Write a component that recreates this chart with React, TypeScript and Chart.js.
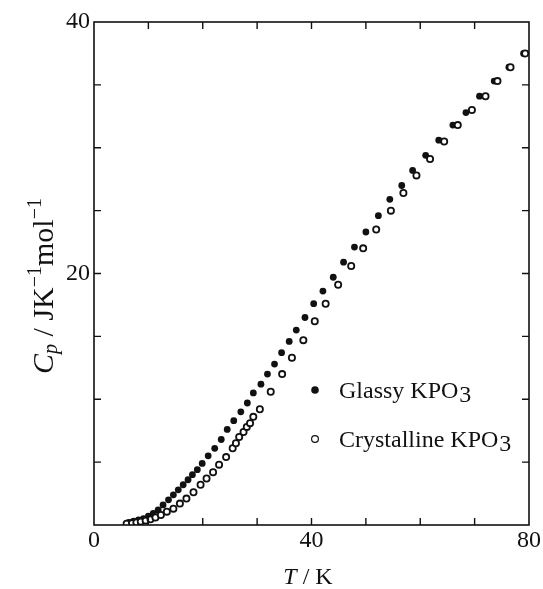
import React, { useEffect, useRef } from "react";
import { Chart, registerables } from "chart.js";

Chart.register(...registerables);

// Glassy KPO3 (filled circles): temperature T / K and heat capacity Cp / J K^-1 mol^-1
const glassyT = [6.4, 7.3, 8.2, 9.1, 10.0, 10.9, 11.8, 12.7, 13.7, 14.6, 15.5, 16.4, 17.3, 18.1, 19.0, 19.9, 21.0, 22.2, 23.4, 24.5, 25.7, 27.0, 28.2, 29.3, 30.7, 31.9, 33.2, 34.5, 35.9, 37.2, 38.8, 40.4, 42.1, 44.0, 45.9, 47.9, 50.0, 52.3, 54.4, 56.6, 58.6, 61.0, 63.4, 66.0, 68.4, 70.9, 73.6, 76.3, 79.0];
const glassyCp = [0.2, 0.3, 0.4, 0.5, 0.7, 0.93, 1.2, 1.6, 2.0, 2.4, 2.8, 3.2, 3.6, 4.0, 4.4, 4.9, 5.5, 6.1, 6.8, 7.6, 8.3, 9.0, 9.7, 10.5, 11.2, 12.0, 12.8, 13.7, 14.6, 15.5, 16.5, 17.6, 18.6, 19.7, 20.9, 22.1, 23.3, 24.6, 25.9, 27.0, 28.2, 29.4, 30.6, 31.8, 32.8, 34.1, 35.3, 36.4, 37.5];

// Crystalline KPO3 (open circles)
const crystT = [6.0, 7.0, 7.8, 8.6, 9.5, 10.4, 11.3, 12.3, 13.4, 14.6, 15.8, 17.0, 18.3, 19.6, 20.7, 21.9, 23.0, 24.3, 25.5, 26.1, 26.7, 27.5, 28.1, 28.7, 29.3, 30.5, 32.5, 34.6, 36.4, 38.5, 40.6, 42.6, 44.9, 47.3, 49.5, 51.9, 54.6, 56.9, 59.3, 61.8, 64.4, 66.9, 69.5, 72.0, 74.2, 76.6, 79.3];
const crystCp = [0.1, 0.15, 0.2, 0.27, 0.35, 0.45, 0.6, 0.8, 1.06, 1.3, 1.7, 2.1, 2.6, 3.2, 3.7, 4.2, 4.8, 5.4, 6.1, 6.5, 7.0, 7.4, 7.8, 8.1, 8.6, 9.2, 10.6, 12.0, 13.3, 14.7, 16.2, 17.6, 19.1, 20.6, 22.0, 23.5, 25.0, 26.4, 27.8, 29.1, 30.5, 31.8, 33.0, 34.1, 35.3, 36.4, 37.5];

const xRange = [0, 80];
const yRange = [0, 40];
const xStep = 10;
const yStep = 5;
const xLabelled = [0, 40, 80];
const yLabelled = [20, 40];
const legendNames = ["Glassy KPO", "Crystalline KPO"];

const SERIF = "\"Liberation Serif\"";
const INK = "#111";

const decorPlugin = {
  id: "decor",
  afterDraw(chart: any) {
    const ctx = chart.ctx;
    const a = chart.chartArea;
    const xs = chart.scales.x;
    const ys = chart.scales.y;
    ctx.save();
    ctx.strokeStyle = INK;
    ctx.lineWidth = 1.6;
    ctx.strokeRect(a.left, a.top, a.right - a.left, a.bottom - a.top);
    ctx.lineWidth = 1.4;
    const tl = 7;
    ctx.beginPath();
    xs.ticks.forEach((t: any) => {
      if (t.value <= xRange[0] || t.value >= xRange[1]) return;
      const px = xs.getPixelForValue(t.value);
      ctx.moveTo(px, a.bottom);
      ctx.lineTo(px, a.bottom - tl);
      ctx.moveTo(px, a.top);
      ctx.lineTo(px, a.top + tl);
    });
    ys.ticks.forEach((t: any) => {
      if (t.value <= yRange[0] || t.value >= yRange[1]) return;
      const py = ys.getPixelForValue(t.value);
      ctx.moveTo(a.left, py);
      ctx.lineTo(a.left + tl, py);
      ctx.moveTo(a.right, py);
      ctx.lineTo(a.right - tl, py);
    });
    ctx.stroke();

    // legend
    ctx.fillStyle = INK;
    ctx.textAlign = "left";
    ctx.textBaseline = "alphabetic";
    const legY = [390, 439];
    for (let i = 0; i < 2; i++) {
      ctx.beginPath();
      ctx.arc(315, legY[i], i === 0 ? 3.8 : 3.4, 0, Math.PI * 2);
      if (i === 0) {
        ctx.fillStyle = INK;
        ctx.fill();
      } else {
        ctx.fillStyle = "#fff";
        ctx.fill();
        ctx.lineWidth = 1.2;
        ctx.stroke();
      }
      ctx.fillStyle = INK;
      ctx.font = `24px ${SERIF}`;
      const base = legY[i] + 8;
      ctx.fillText(legendNames[i], 339, base);
      const w = ctx.measureText(legendNames[i]).width;
      ctx.fillText("3", 339 + w + 1, base + 4);
    }

    // x title
    ctx.font = `italic 24px ${SERIF}`;
    const wT = ctx.measureText("T").width;
    ctx.font = `24px ${SERIF}`;
    const wRest = ctx.measureText(" / K").width;
    const x0 = 308 - (wT + wRest) / 2;
    ctx.font = `italic 24px ${SERIF}`;
    ctx.fillText("T", x0, 584);
    ctx.font = `24px ${SERIF}`;
    ctx.fillText(" / K", x0 + wT, 584);

    // y title (rotated)
    const parts = [
      { t: "C", f: `italic 30px ${SERIF}`, dy: 0 },
      { t: "p", f: `italic 20px ${SERIF}`, dy: 4 },
      { t: " / JK", f: `30px ${SERIF}`, dy: 0 },
      { t: "\u22121", f: `20px ${SERIF}`, dy: -12 },
      { t: "mol", f: `30px ${SERIF}`, dy: 0 },
      { t: "\u22121", f: `20px ${SERIF}`, dy: -12 },
    ];
    let W = 0;
    const widths = parts.map((p) => {
      ctx.font = p.f;
      const w = ctx.measureText(p.t).width;
      W += w;
      return w;
    });
    ctx.translate(53, 286 + W / 2);
    ctx.rotate(-Math.PI / 2);
    let cx = 0;
    parts.forEach((p, i) => {
      ctx.font = p.f;
      ctx.fillText(p.t, cx, p.dy);
      cx += widths[i];
    });
    ctx.restore();
  },
};

export default function App() {
  const ref = useRef<HTMLCanvasElement | null>(null);
  useEffect(() => {
    document.body.style.margin = "0";
    const canvas = ref.current;
    if (!canvas) return;
    const chart = new Chart(canvas, {
      type: "scatter",
      data: {
        datasets: [
          {
            label: "Glassy KPO3",
            data: glassyT.map((t, i) => ({ x: t, y: glassyCp[i] })),
            pointStyle: "circle",
            pointRadius: 3.4,
            pointBorderWidth: 0,
            backgroundColor: INK,
            borderColor: INK,
            order: 1,
          },
          {
            label: "Crystalline KPO3",
            data: crystT.map((t, i) => ({ x: t, y: crystCp[i] })),
            pointStyle: "circle",
            pointRadius: 3.1,
            pointBorderWidth: 1.8,
            backgroundColor: "#fff",
            borderColor: INK,
            order: 0,
          },
        ],
      },
      options: {
        animation: false,
        responsive: false,
        maintainAspectRatio: false,
        devicePixelRatio: 1,
        layout: { padding: { top: 22, right: 14, left: 0, bottom: 0 } },
        plugins: { legend: { display: false }, tooltip: { enabled: false } },
        scales: {
          x: {
            type: "linear",
            min: xRange[0],
            max: xRange[1],
            grid: { display: false, drawTicks: false },
            border: { display: false },
            afterFit: (s: any) => {
              s.height = 64;
            },
            ticks: {
              stepSize: xStep,
              autoSkip: false,
              maxRotation: 0,
              padding: 1,
              color: INK,
              font: { family: SERIF, size: 24 },
              callback: (v: any) => (xLabelled.includes(Number(v)) ? String(v) : ""),
            },
          },
          y: {
            type: "linear",
            min: yRange[0],
            max: yRange[1],
            grid: { display: false, drawTicks: false },
            border: { display: false },
            afterFit: (s: any) => {
              s.width = 94;
            },
            ticks: {
              stepSize: yStep,
              autoSkip: false,
              padding: 4,
              color: INK,
              font: { family: SERIF, size: 24 },
              callback: (v: any) => (yLabelled.includes(Number(v)) ? String(v) : ""),
            },
          },
        },
      },
      plugins: [decorPlugin],
    });
    let alive = true;
    const fonts = (document as any).fonts;
    if (fonts && fonts.load) {
      Promise.all([
        fonts.load('24px "Liberation Serif"'),
        fonts.load('italic 24px "Liberation Serif"'),
      ])
        .then(() => {
          if (alive) chart.update();
        })
        .catch(() => {});
    }
    return () => {
      alive = false;
      chart.destroy();
    };
  }, []);
  return <canvas ref={ref} width={543} height={589} style={{ display: "block" }} />;
}
